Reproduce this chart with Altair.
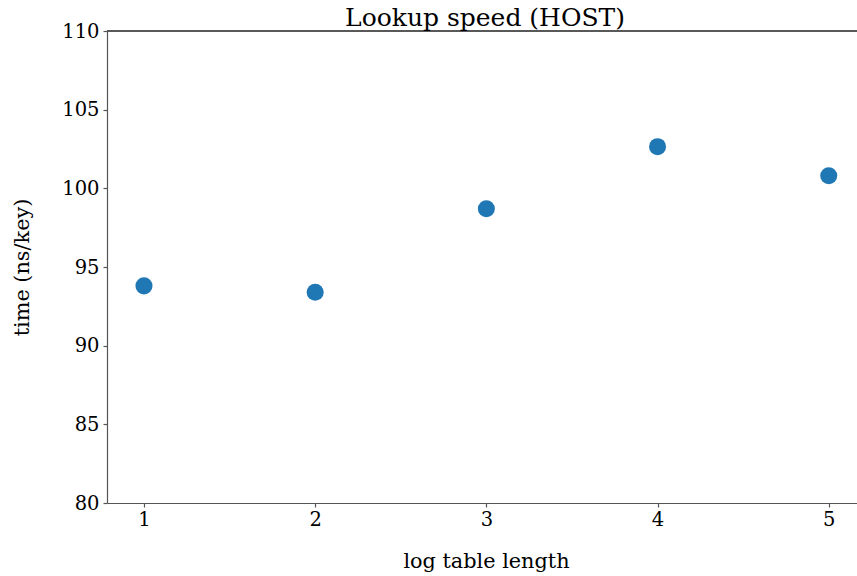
import altair as alt
import pandas as pd

lengths = [1, 2, 3, 4, 5]
times = [93.8, 93.4, 98.7, 102.65, 100.8]

df = pd.DataFrame({"length": lengths, "time": times})

FONT = "DejaVu Serif"
AX = "#555555"

xscale = alt.Scale(domain=[0.784, 5.165], nice=False, zero=False)
yscale = alt.Scale(domain=[80, 110], nice=False, zero=False)

points = alt.Chart(df).mark_circle(size=290, color="#1f77b4", opacity=1).encode(
    x=alt.X("length:Q", scale=xscale,
            axis=alt.Axis(values=lengths, format="d", title="log table length",
                          titleX=379, titleY=64, titleBaseline="alphabetic",
                          titleAlign="center", titleFontSize=20.8, labelPadding=3)),
    y=alt.Y("time:Q", scale=yscale,
            axis=alt.Axis(values=[80, 85, 90, 95, 100, 105, 110], title="time (ns/key)",
                          titleX=-85, titleY=236, titleBaseline="middle", titleAlign="center",
                          titleAngle=270, titleFontSize=20.8, labelPadding=4)),
)

topspine = alt.Chart(df).mark_rule(color=AX, strokeWidth=1.2).encode(
    x=alt.value(0), x2=alt.value(750), y=alt.value(0)
)

chart = alt.layer(points, topspine).properties(
    width=750,
    height=472,
    autosize=alt.AutoSizeParams(type="none"),
    padding={"left": 107, "top": 31, "right": 0, "bottom": 73},
    title=alt.TitleParams("Lookup speed (HOST)", font=FONT, fontSize=25,
                          fontWeight="normal", color="black", anchor="middle",
                          offset=-10, dx=3, frame="group"),
).configure_view(stroke=None).configure_axis(
    grid=False,
    domainColor=AX,
    domainWidth=1.2,
    tickColor=AX,
    tickWidth=1.2,
    tickSize=4,
    labelFont=FONT,
    labelFontSize=19.5,
    labelColor="black",
    titleFont=FONT,
    titleFontWeight="normal",
    titleColor="black",
)

chart.save("out.html", embed_options={"renderer": "svg", "actions": False})
